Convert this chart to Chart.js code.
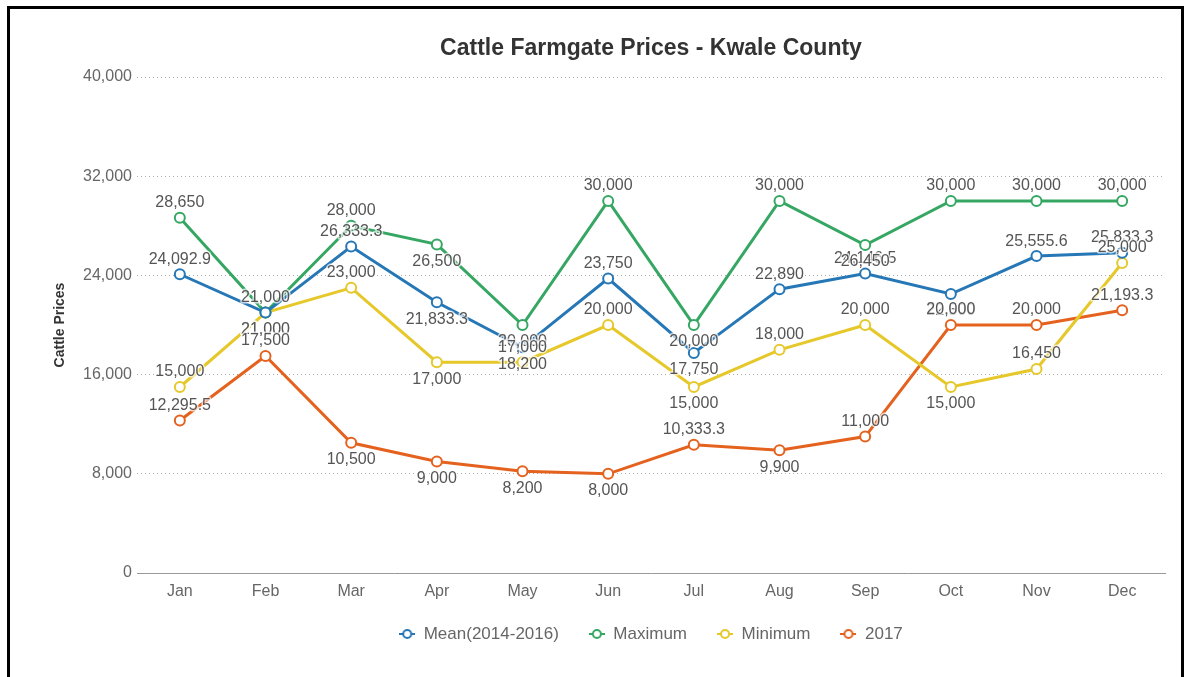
<!DOCTYPE html>
<html>
<head>
<meta charset="utf-8">
<title>Cattle Farmgate Prices - Kwale County</title>
<script src="https://cdn.jsdelivr.net/npm/chart.js@4"></script>
<style>
  html, body { margin: 0; padding: 0; background: #fff; }
  #wrap { position: relative; width: 1187px; height: 677px; overflow: hidden; }
  #frame { position: absolute; left: 7px; top: 6px; width: 1171px; height: 700px; border: 3px solid #000; border-bottom: none; pointer-events: none; }
  canvas { position: absolute; left: 0; top: 0; }
</style>
</head>
<body>
<div id="wrap">
  <canvas id="chart" width="1187" height="677"></canvas>
  <div id="frame"></div>
</div>
<script>
const months = ["Jan", "Feb", "Mar", "Apr", "May", "Jun", "Jul", "Aug", "Sep", "Oct", "Nov", "Dec"];
const mean = [24092.9, 21000, 26333.3, 21833.3, 18200, 23750, 17750, 22890, 24146.5, 22500, 25555.6, 25833.3];
const maximum = [28650, 21000, 28000, 26500, 20000, 30000, 20000, 30000, 26450, 30000, 30000, 30000];
const minimum = [15000, 21000, 23000, 17000, 17000, 20000, 15000, 18000, 20000, 15000, 16450, 25000];
const y2017 = [12295.5, 17500, 10500, 9000, 8200, 8000, 10333.3, 9900, 11000, 20000, 20000, 21193.3];
const yTicks = [0, 8000, 16000, 24000, 32000, 40000];

const FONT = '"Liberation Sans", Arial, sans-serif';
Chart.defaults.font.family = FONT;

const series = [
    {label: "Mean(2014-2016)", data: mean, color: "#2677b6"},
    {label: "Maximum", data: maximum, color: "#36a763"},
    {label: "Minimum", data: minimum, color: "#e6c82b"},
    {label: "2017", data: y2017, color: "#e4621e"},
];

// little line-with-circle marker for the legend
function legendMark(color) {
    const c = document.createElement('canvas');
    c.width = 16;
    c.height = 12;
    const g = c.getContext('2d');
    g.strokeStyle = color;
    g.lineWidth = 2;
    g.beginPath(); g.moveTo(0, 6); g.lineTo(16, 6); g.stroke();
    g.fillStyle = "#fff";
    g.beginPath(); g.arc(8, 6, 4, 0, Math.PI * 2); g.fill(); g.stroke();
    return c;
}

const fmt = v => v.toLocaleString('en-US', {maximumFractionDigits: 1});

// value labels: above the point, below when the value dropped from the previous month
const valueLabels = {
    id: 'valueLabels',
    afterDatasetsDraw(chart) {
        const ctx = chart.ctx;
        ctx.save();
        ctx.font = '16px ' + FONT;
        ctx.textAlign = 'center';
        ctx.textBaseline = 'middle';
        ctx.lineJoin = 'round';
        chart.data.datasets.forEach((ds, i) => {
            chart.getDatasetMeta(i).data.forEach((pt, j) => {
                const v = ds.data[j];
                const below = j > 0 && v < ds.data[j - 1];
                const y = below ? pt.y + 17 : pt.y - 15;
                const text = fmt(v);
                ctx.strokeStyle = 'rgba(255,255,255,0.7)';
                ctx.lineWidth = 3;
                ctx.strokeText(text, pt.x, y);
                ctx.fillStyle = '#555';
                ctx.fillText(text, pt.x, y);
            });
        });
        ctx.restore();
    }
};

new Chart(document.getElementById('chart'), {
    type: 'line',
    data: {
        labels: months,
        datasets: series.map(s => ({
            label: s.label,
            data: s.data,
            borderColor: s.color,
            backgroundColor: s.color,
            borderWidth: 3,
            tension: 0,
            pointRadius: 5,
            pointBorderWidth: 2,
            pointBackgroundColor: "#fff",
            pointBorderColor: s.color,
        }))
    },
    options: {
        responsive: false,
        animation: false,
        layout: {padding: {left: 48, right: 22, top: 0, bottom: 24.5}},
        plugins: {
            title: {
                display: true,
                fullSize: false,
                text: "Cattle Farmgate Prices - Kwale County",
                color: "#333",
                font: {size: 23, weight: 'bold'},
                padding: {top: 35, bottom: 14.4}
            },
            legend: {
                position: 'bottom',
                fullSize: false,
                labels: {
                    usePointStyle: true,
                    pointStyleWidth: 16,
                    padding: 30,
                    color: "#666",
                    font: {size: 17},
                    generateLabels(chart) {
                        return Chart.defaults.plugins.legend.labels.generateLabels(chart).map((item, i) => {
                            item.pointStyle = legendMark(series[i].color);
                            return item;
                        });
                    }
                }
            },
            tooltip: {enabled: false}
        },
        scales: {
            x: {
                offset: true,
                grid: {display: false, drawTicks: false},
                border: {display: true, color: "#999", width: 1},
                ticks: {color: "#666", font: {size: 16}, padding: 9},
                afterFit(scale) {
                    // keep the legend close to the axis; labels may spill past the box
                    scale.height = 22.5;
                    scale._computeLabelArea = () => undefined;
                }
            },
            y: {
                min: 0,
                max: 40000,
                afterBuildTicks(scale) { scale.ticks = yTicks.map(v => ({value: v})); },
                grid: {
                    drawTicks: false,
                    color: c => c.tick.value === 0 ? 'rgba(0,0,0,0)' : '#aaa'
                },
                border: {display: false, dash: [1, 3]},
                ticks: {
                    color: "#666",
                    font: {size: 16},
                    padding: 5,
                    callback: v => v.toLocaleString('en-US')
                },
                title: {
                    display: true,
                    text: "Cattle Prices",
                    color: "#333",
                    font: {size: 14, weight: 'bold'}
                },
                afterFit(scale) { scale.width = 89; }
            }
        }
    },
    plugins: [valueLabels]
});
</script>
</body>
</html>
